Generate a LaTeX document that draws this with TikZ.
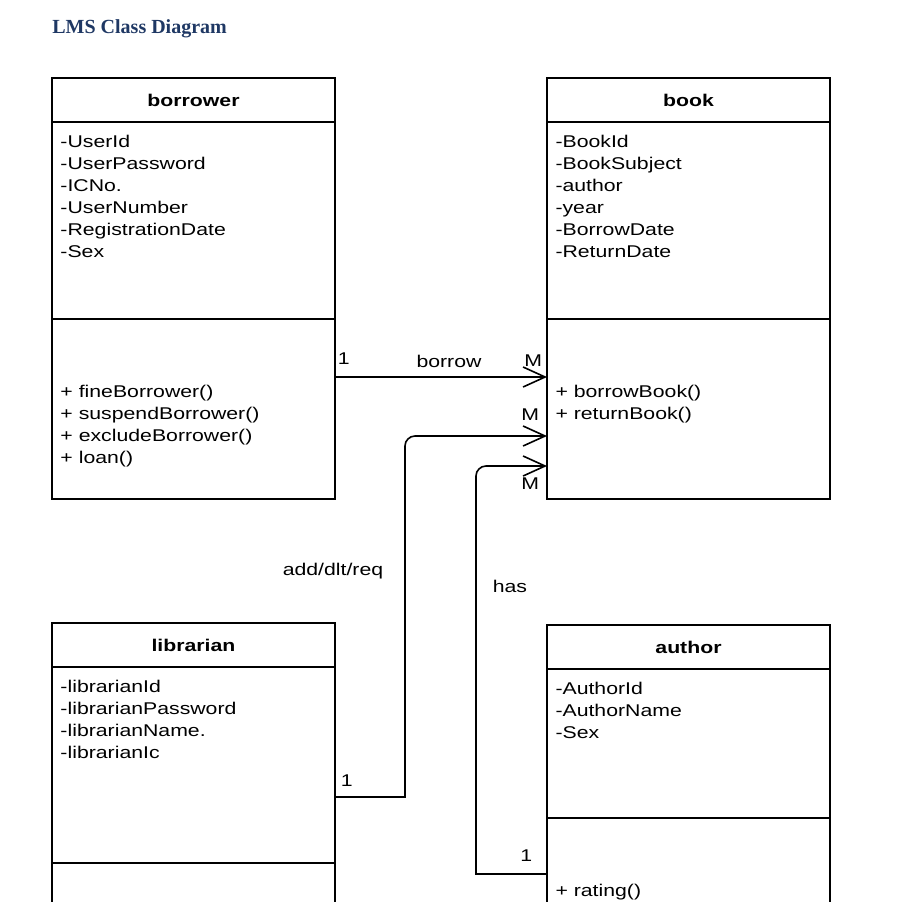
\documentclass[tikz,border=0pt]{standalone}
\usepackage{fontspec}
\newfontfamily\umlfont{Liberation Sans}[FakeStretch=1.25]
\newfontfamily\titlefont{Liberation Serif}
\usetikzlibrary{positioning,arrows.meta}
\definecolor{titleblue}{HTML}{1F3864}
% compartment text: optional top gap, box height, lines
\newcommand{\members}[3][6.8pt]{\parbox[c][#2][t]{133pt}{\raggedright\vspace*{#1}#3}}

\begin{document}
\begin{tikzpicture}[
  x=0.5pt, y=-0.5pt,
  font=\umlfont\fontsize{8.5}{11}\selectfont,
  head/.style={draw, line width=0.8pt, minimum width=141.5pt, minimum height=22pt,
    inner sep=0pt, outer sep=0pt, font=\umlfont\bfseries\fontsize{8.5}{11}\selectfont},
  compart/.style={draw, line width=0.8pt, minimum width=141.5pt, inner xsep=4.25pt, inner ysep=0pt, outer sep=0pt},
  assoc/.style={-{Straight Barb[length=11pt,width=10pt]}, line width=0.8pt},
  mult/.style={inner sep=1pt}
]
\useasboundingbox (0,0) rectangle (902,902);
\clip (0,0) rectangle (902,902);

% Title
\node[anchor=west, inner sep=0pt, text=titleblue, font=\titlefont\bfseries\fontsize{10}{12}\selectfont] (title) at (52,29) {LMS Class Diagram};

% Classes
\node[head, anchor=north] (borrower) at (193.5,78) {borrower};
\node[compart, below=0pt of borrower] (borrowerAttr) {\members{98.5pt}{-UserId\\-UserPassword\\-ICNo.\\-UserNumber\\-RegistrationDate\\-Sex}};
\node[compart, below=0pt of borrowerAttr] (borrowerOps) {\members[33.3pt]{90pt}{+ fineBorrower()\\+ suspendBorrower()\\+ excludeBorrower()\\+ loan()}};

\node[head, anchor=north] (book) at (688.5,78) {book};
\node[compart, below=0pt of book] (bookAttr) {\members{98.5pt}{-BookId\\-BookSubject\\-author\\-year\\-BorrowDate\\-ReturnDate}};
\node[compart, below=0pt of bookAttr] (bookOps) {\members[33.3pt]{90pt}{+ borrowBook()\\+ returnBook()}};

\node[head, anchor=north] (librarian) at (193.5,623) {librarian};
\node[compart, below=0pt of librarian] (librarianAttr) {\members{98pt}{-librarianId\\-librarianPassword\\-librarianName.\\-librarianIc}};
\node[compart, minimum height=60pt, below=0pt of librarianAttr] (librarianOps) {};

\node[head, anchor=north] (author) at (688.5,625) {author};
\node[compart, below=0pt of author] (authorAttr) {\members{74.5pt}{-AuthorId\\-AuthorName\\-Sex}};
\node[compart, below=0pt of authorAttr] (authorOps) {\members[33.3pt]{60pt}{+ rating()}};

% Associations
\draw[assoc] ([yshift=-29pt]borrowerOps.north east) -- ([yshift=-29pt]bookOps.north west)
  node[mult, pos=0, above right=5pt and 0pt] {1}
  node[mult, midway, above=3.5pt, xshift=4pt] {borrow}
  node[mult, pos=1, above left=4pt and 1pt] {M};

\draw[assoc] ([yshift=-65pt]librarianAttr.north east) node[mult, above right=4pt and 1.5pt] {1}
  -- ++(35pt,0) [rounded corners=5pt] |- ([yshift=-58.5pt]bookOps.north west)
  node[mult, pos=0.313, left=9.5pt] {add/dlt/req}
  node[mult, pos=1, above left=6.5pt and 2.5pt] {M};

\draw[assoc] ([yshift=-28pt]authorOps.north west) node[mult, above left=5pt and 6pt] {1}
  -- ++(-35.5pt,0) [rounded corners=5pt] |- ([yshift=-73.5pt]bookOps.north west)
  node[mult, pos=0.352, right=7pt] {has}
  node[mult, pos=1, below left=4.5pt and 2.5pt] {M};

\end{tikzpicture}
\end{document}
